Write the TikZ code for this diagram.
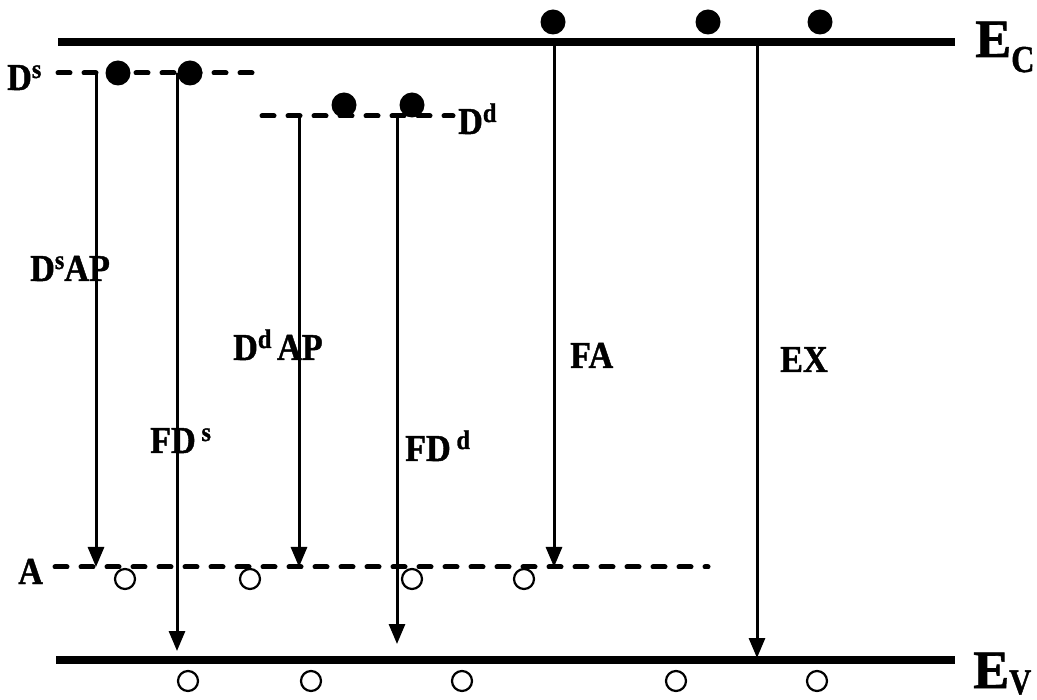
\documentclass[tikz,border=0pt]{standalone}
\usepackage{fontspec}
\setmainfont{Liberation Serif}[BoldFeatures={FakeBold=1.2}]
\usetikzlibrary{arrows.meta}

% label fonts
\newcommand{\lbsize}{\fontsize{38}{44}\selectfont\bfseries}
\newcommand{\upix}[1]{\raisebox{12pt}{\fontsize{27}{28}\selectfont\bfseries #1}}
\newcommand{\narrow}[1]{\scalebox{0.9}[1]{#1}}

\begin{document}
\begin{tikzpicture}[x=1pt,y=-1pt,
  band/.style={line width=8pt},
  level/.style={line width=5pt, dash pattern=on 12pt off 14pt, line cap=round},
  trans/.style={line width=3pt, -{Triangle[width=16pt,length=20pt]}},
  elec/.style={circle, fill=black, inner sep=0pt, minimum size=25pt},
  hole/.style={circle, draw=black, line width=2.2pt, inner sep=0pt, minimum size=20pt},
  lbl/.style={anchor=base west, inner sep=0pt, font=\lbsize}]
\useasboundingbox (0,0) rectangle (1037,700);

% band edges
\coordinate (ECl) at (58,42);  \coordinate (ECr) at (955,42);
\coordinate (EVl) at (56,660); \coordinate (EVr) at (955,660);
\draw[band] (ECl) -- (ECr);
\draw[band] (EVl) -- (EVr);

% impurity levels
\coordinate (Dsl) at (58,73);  \coordinate (Dsr) at (253,73);
\coordinate (Ddl) at (262,116); \coordinate (Ddr) at (453,116);
\coordinate (Al) at (55,567);  \coordinate (Ar) at (708,567);
\draw[level] (Dsl) -- (Dsr);
\draw[level] (Ddl) -- (Ddr);
\draw[level] (Al) -- (Ar);

% transition end points
\coordinate (dsap1) at (96,73);   \coordinate (dsap2) at (96,567);
\coordinate (fds1)  at (177,73);  \coordinate (fds2)  at (177,651);
\coordinate (ddap1) at (299,116); \coordinate (ddap2) at (299,567);
\coordinate (fdd1)  at (397,116); \coordinate (fdd2)  at (397,644);
\coordinate (fa1)   at (554,42);  \coordinate (fa2)   at (554,567);
\coordinate (ex1)   at (757,42);  \coordinate (ex2)   at (757,658);

\draw[trans] (dsap1) -- (dsap2);
\draw[trans] (fds1) -- (fds2);
\draw[trans] (ddap1) -- (ddap2);
\draw[trans] (fdd1) -- (fdd2);
\draw[trans] (fa1) -- (fa2);
\draw[trans] (ex1) -- (ex2);

% electrons
\node[elec] (e1) at (118,73) {};
\node[elec] (e2) at (190,73) {};
\node[elec] (e3) at (344,105) {};
\node[elec] (e4) at (412,105) {};
\node[elec] (e5) at (553,22) {};
\node[elec] (e6) at (708,22) {};
\node[elec] (e7) at (820,22) {};

% holes
\node[hole] (h1) at (125,579) {};
\node[hole] (h2) at (250,579) {};
\node[hole] (h3) at (412,579) {};
\node[hole] (h4) at (524,579) {};
\node[hole] (h5) at (188,681) {};
\node[hole] (h6) at (311,681) {};
\node[hole] (h7) at (462,681) {};
\node[hole] (h8) at (676,681) {};
\node[hole] (h9) at (817,681) {};

% labels
\node[lbl] (lEC) at (975,57) {\fontsize{54}{60}\selectfont\bfseries E\raisebox{-15pt}{\fontsize{38}{40}\selectfont\scalebox{0.85}[1]{C}}};
\node[lbl] (lEV) at (973,688) {\fontsize{54}{60}\selectfont\bfseries E\raisebox{-6pt}{\fontsize{36}{40}\selectfont\scalebox{0.85}[1]{V}}};
\node[lbl] (lDs) at (7,90) {\narrow{D\upix{s}}};
\node[lbl] (lDd) at (458,134) {\narrow{D\upix{d}}};
\node[lbl] (lA) at (18,584) {\narrow{A}};
\node[lbl] (lDsAP) at (30,281) {\narrow{D\upix{s}AP}};
\node[lbl] (lDdAP) at (233,360) {\narrow{D\upix{d}\,AP}};
\node[lbl] (lFDs) at (150,453) {\narrow{FD\,\upix{s}}};
\node[lbl] (lFDd) at (405,461) {\narrow{FD\,\upix{d}}};
\node[lbl] (lFA) at (570,368) {\narrow{FA}};
\node[lbl] (lEX) at (780,372) {\narrow{EX}};
\end{tikzpicture}
\end{document}
